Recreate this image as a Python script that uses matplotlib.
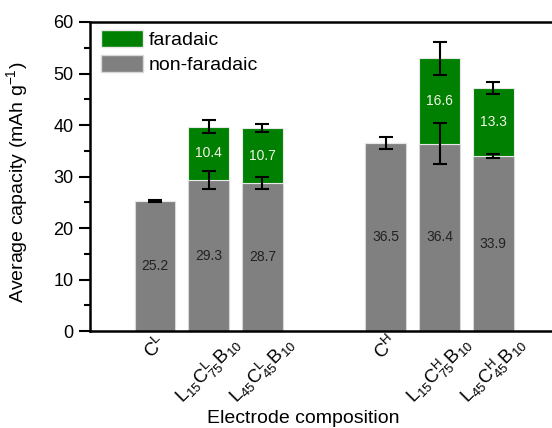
import matplotlib
matplotlib.use("Agg")
import matplotlib.pyplot as plt
from matplotlib.patches import Patch
from matplotlib.ticker import MultipleLocator

plt.rcParams["font.family"] = ["Liberation Sans", "DejaVu Sans"]
plt.rcParams["mathtext.fontset"] = "custom"
plt.rcParams["mathtext.rm"] = "Liberation Sans"
plt.rcParams["mathtext.it"] = "Liberation Sans:italic"

# capacity contributions per electrode (mAh/g)
samples = [r"$\mathregular{C^L}$",
           r"$\mathregular{L_{15}C^L_{75}B_{10}}$",
           r"$\mathregular{L_{45}C^L_{45}B_{10}}$",
           r"$\mathregular{C^H}$",
           r"$\mathregular{L_{15}C^H_{75}B_{10}}$",
           r"$\mathregular{L_{45}C^H_{45}B_{10}}$"]
positions = [0, 1, 2, 4.3, 5.3, 6.3]
non_faradaic = [25.2, 29.3, 28.7, 36.5, 36.4, 33.9]
non_faradaic_err = [0.2, 1.7, 1.2, 1.25, 4.0, 0.4]
faradaic = [0, 10.4, 10.7, 0, 16.6, 13.3]
total_err = [0, 1.2, 0.75, 0, 3.2, 1.15]

GREEN = "#008000"
GRAY = "#808080"

fig = plt.figure(figsize=(5.52, 4.28), dpi=100)
ax = fig.add_axes([0.163, 0.2266, 0.857, 0.722])

w = 0.76
ax.bar(positions, non_faradaic, width=w, color=GRAY, edgecolor="#d8d8d8", linewidth=0.8, zorder=2)
ax.bar(positions, faradaic, width=w, bottom=non_faradaic, color=GREEN,
       edgecolor="#e8e8e8", linewidth=0.8, zorder=2)

totals = [n + f for n, f in zip(non_faradaic, faradaic)]
ax.errorbar(positions, non_faradaic, yerr=non_faradaic_err, fmt="none",
            ecolor="black", elinewidth=1.5, capsize=5, capthick=1.5, zorder=3)
fx = [p for p, f in zip(positions, faradaic) if f > 0]
fy = [t for t, f in zip(totals, faradaic) if f > 0]
fe = [e for e, f in zip(total_err, faradaic) if f > 0]
ax.errorbar(fx, fy, yerr=fe, fmt="none", ecolor="black", elinewidth=1.5,
            capsize=5, capthick=1.5, zorder=3)

label_font = ["Liberation Sans Narrow", "Liberation Sans", "DejaVu Sans"]
for p, n, f in zip(positions, non_faradaic, faradaic):
    ax.text(p, n / 2, f"{n:.1f}", ha="center", va="center", fontsize=10,
            color="#222222", family=label_font, zorder=4)
    if f > 0:
        ax.text(p, n + f / 2, f"{f:.1f}", ha="center", va="center", fontsize=10,
                color="#f4f4e8", family=label_font, zorder=4)

ax.set_xlim(-1.21, 7.6)
ax.set_ylim(0, 60)
ax.yaxis.set_major_locator(MultipleLocator(10))
ax.yaxis.set_minor_locator(MultipleLocator(5))
ax.tick_params(axis="y", which="major", direction="out", length=8, width=1.5,
               labelsize=13, pad=4)
ax.tick_params(axis="y", which="minor", direction="out", length=4, width=1.5)
ax.set_xticks(positions)
ax.set_xticklabels(samples, rotation=45, fontsize=13.5)
ax.tick_params(axis="x", length=0, pad=1)
for side in ["left", "bottom", "top", "right"]:
    ax.spines[side].set_linewidth(1.8)

ax.set_ylabel(r"Average capacity (mAh g$^{\mathregular{-1}}$)", fontsize=14)
ax.yaxis.set_label_coords(-0.127, 0.482)
ax.set_xlabel("Electrode composition", fontsize=14)
ax.xaxis.set_label_coords(0.451, -0.257)

handles = [Patch(facecolor=GREEN, edgecolor="#e8e8e8", label="faradaic"),
           Patch(facecolor=GRAY, edgecolor="#d8d8d8", label="non-faradaic")]
ax.legend(handles=handles, loc="upper left", bbox_to_anchor=(0.023, 0.975),
          frameon=False, fontsize=14, handlelength=2.15, handleheight=1.0,
          handletextpad=0.3, labelspacing=0.3, borderpad=0, borderaxespad=0)

fig.savefig("out.png", dpi=100)
